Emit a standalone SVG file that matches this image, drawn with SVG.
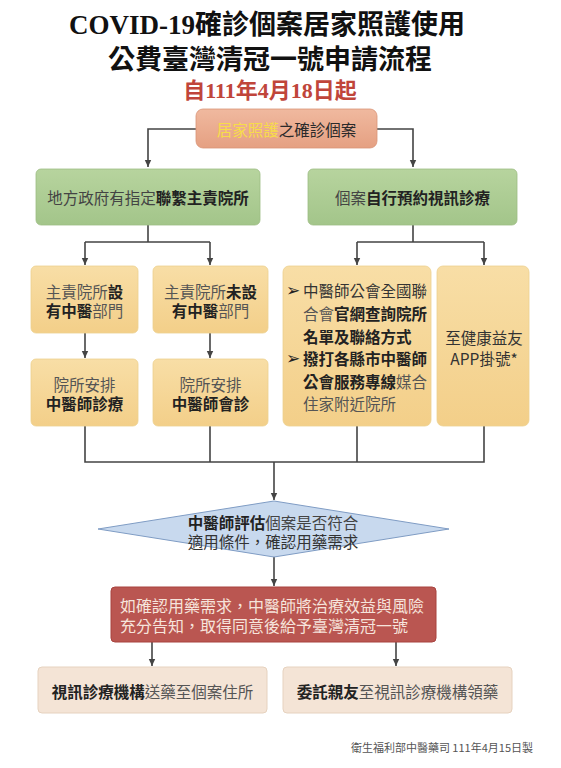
<svg xmlns="http://www.w3.org/2000/svg" width="561" height="768" viewBox="0 0 561 768">
<style>
text{font-family:"Noto Sans CJK TC","Noto Sans CJK SC",sans-serif;fill:#333;}
.t{font-family:"Liberation Serif","Noto Sans CJK TC",serif;font-weight:bold;fill:#111;font-size:27px;text-anchor:middle;}
.m{font-size:15.5px;text-anchor:middle;dominant-baseline:central;}
.b{font-weight:bold;fill:#222;}
.n{fill:#555;}
.bul{font-family:"DejaVu Sans",sans-serif;font-size:17px;dominant-baseline:central;fill:#222;}
.line{fill:none;stroke:#444;stroke-width:1.6;}
.green{fill:url(#gg);stroke:#9dbd84;stroke-width:0.8;}
.yel{fill:url(#gy);stroke:#ecd08f;stroke-width:0.8;}
</style>
<defs>
<linearGradient id="gg" x1="0" y1="0" x2="0" y2="1"><stop offset="0" stop-color="#b7d49e"/><stop offset="1" stop-color="#a3c58a"/></linearGradient>
<linearGradient id="gy" x1="0" y1="0" x2="0" y2="1"><stop offset="0" stop-color="#f8dea6"/><stop offset="1" stop-color="#f3cf89"/></linearGradient>
<linearGradient id="gs" x1="0" y1="0" x2="0" y2="1"><stop offset="0" stop-color="#f0b99f"/><stop offset="1" stop-color="#e5a082"/></linearGradient>
<marker id="ar" markerWidth="8" markerHeight="8" refX="7" refY="4" orient="auto" markerUnits="userSpaceOnUse"><path d="M0,0.8 L7,4 L0,7.2 z" fill="#444"/></marker>
</defs>
<rect width="561" height="768" fill="#fff"/>

<g id="title">
<text class="t" x="267" y="34">COVID-19確診個案居家照護使用</text>
<text class="t" x="270" y="69">公費臺灣清冠一號申請流程</text>
<text class="t" x="270" y="98" style="font-size:22px;fill:#c0453a;">自111年4月18日起</text>
</g>

<g id="connectors">
<path class="line" d="M196,129 H148 V167" marker-end="url(#ar)"/>
<path class="line" d="M377,129 H413 V167" marker-end="url(#ar)"/>
<path class="line" d="M148,225 V242 M85,242 H210"/>
<path class="line" d="M85,242 V265" marker-end="url(#ar)"/>
<path class="line" d="M210,242 V265" marker-end="url(#ar)"/>
<path class="line" d="M413,225 V242 M357,242 H484"/>
<path class="line" d="M357,242 V265" marker-end="url(#ar)"/>
<path class="line" d="M484,242 V265" marker-end="url(#ar)"/>
<path class="line" d="M85,333 V358" marker-end="url(#ar)"/>
<path class="line" d="M210,333 V358" marker-end="url(#ar)"/>
<path class="line" d="M85,426 V462 H484 V426 M210,426 V462 M357,426 V462"/>
<path class="line" d="M274,462 V500" marker-end="url(#ar)"/>
<path class="line" d="M274,557 V586" marker-end="url(#ar)"/>
<path class="line" d="M152,642 V666" marker-end="url(#ar)"/>
<path class="line" d="M396,642 V666" marker-end="url(#ar)"/>
</g>

<g id="start">
<rect x="196" y="109" width="181" height="39" rx="7" fill="url(#gs)" stroke="#d99477" stroke-width="0.8"/>
<text class="m" x="286.5" y="129"><tspan fill="#f7dc4a">居家照護</tspan><tspan fill="#2a2a2a">之確診個案</tspan></text>
</g>

<g id="gov">
<rect class="green" x="36" y="169" width="224" height="56" rx="5"/>
<text class="m" x="148" y="197"><tspan fill="#444">地方政府有指定</tspan><tspan class="b">聯繫主責院所</tspan></text>
</g>

<g id="self">
<rect class="green" x="308" y="169" width="209" height="56" rx="5"/>
<text class="m" x="412.5" y="197"><tspan fill="#444">個案</tspan><tspan class="b">自行預約視訊診療</tspan></text>
</g>

<g id="has-tcm">
<rect class="yel" x="31" y="266" width="107" height="67" rx="5"/>
<text class="m" x="84.5" y="291"><tspan class="n">主責院所</tspan><tspan class="b">設</tspan></text>
<text class="m" x="84.5" y="310"><tspan class="b">有中醫</tspan><tspan class="n">部門</tspan></text>
</g>

<g id="no-tcm">
<rect class="yel" x="153" y="266" width="115" height="67" rx="5"/>
<text class="m" x="210.5" y="291"><tspan class="n">主責院所</tspan><tspan class="b">未設</tspan></text>
<text class="m" x="210.5" y="310"><tspan class="b">有中醫</tspan><tspan class="n">部門</tspan></text>
</g>

<g id="arrange-treat">
<rect class="yel" x="31" y="359" width="107" height="67" rx="5"/>
<text class="m n" x="84.5" y="384">院所安排</text>
<text class="m b" x="84.5" y="403">中醫師診療</text>
</g>

<g id="arrange-consult">
<rect class="yel" x="153" y="359" width="115" height="67" rx="5"/>
<text class="m n" x="210.5" y="384">院所安排</text>
<text class="m b" x="210.5" y="403">中醫師會診</text>
</g>

<g id="union">
<rect class="yel" x="283" y="266" width="148" height="160" rx="6"/>
<g style="font-size:15.5px;dominant-baseline:central;">
<text class="bul" x="286" y="290">➢</text>
<text x="303" y="290" fill="#444">中醫師公會全國聯</text>
<text x="303" y="313"><tspan class="n">合會</tspan><tspan class="b">官網查詢院所</tspan></text>
<text x="303" y="336" class="b">名單及聯絡方式</text>
<text class="bul" x="286" y="358">➢</text>
<text x="303" y="358" class="b">撥打各縣市中醫師</text>
<text x="303" y="381"><tspan class="b">公會服務專線</tspan><tspan class="n">媒合</tspan></text>
<text x="303" y="403" class="n">住家附近院所</text>
</g>
</g>

<g id="app">
<rect class="yel" x="437" y="266" width="92" height="160" rx="6"/>
<text class="m" x="484" y="337" fill="#333">至健康益友</text>
<text class="m" x="484" y="358" fill="#333">APP掛號*</text>
</g>

<g id="assess">
<polygon points="98,529 274,501 449,529 274,557" fill="#c8d9ee" stroke="#7f9cc4" stroke-width="1"/>
<text class="m" x="273" y="521.5"><tspan class="b">中醫師評估</tspan><tspan fill="#444">個案是否符合</tspan></text>
<text class="m" x="273" y="540.5" fill="#444">適用條件，確認用藥需求</text>
</g>

<g id="prescribe">
<rect x="111" y="587" width="325" height="55" rx="4" fill="#ba5651" stroke="#a8433f" stroke-width="1"/>
<text x="120" y="605" style="font-size:16px;dominant-baseline:central;fill:#f6e4dc;">如確認用藥需求，中醫師將治療效益與風險</text>
<text x="120" y="625" style="font-size:16px;dominant-baseline:central;fill:#f6e4dc;">充分告知，取得同意後給予臺灣清冠一號</text>
</g>

<g id="deliver">
<rect x="38" y="667" width="229" height="46" rx="4" fill="#f4e4d6" stroke="#e6d2bf" stroke-width="1"/>
<text class="m" x="152.5" y="691"><tspan class="b">視訊診療機構</tspan><tspan class="n">送藥至個案住所</tspan></text>
</g>

<g id="pickup">
<rect x="283" y="667" width="229" height="46" rx="4" fill="#f4e4d6" stroke="#e6d2bf" stroke-width="1"/>
<text class="m" x="397.5" y="691"><tspan class="b">委託親友</tspan><tspan class="n">至視訊診療機構領藥</tspan></text>
</g>

<g id="footer">
<text x="533" y="747" style="font-size:11px;text-anchor:end;dominant-baseline:central;fill:#555;">衛生福利部中醫藥司 111年4月15日製</text>
</g>
</svg>
